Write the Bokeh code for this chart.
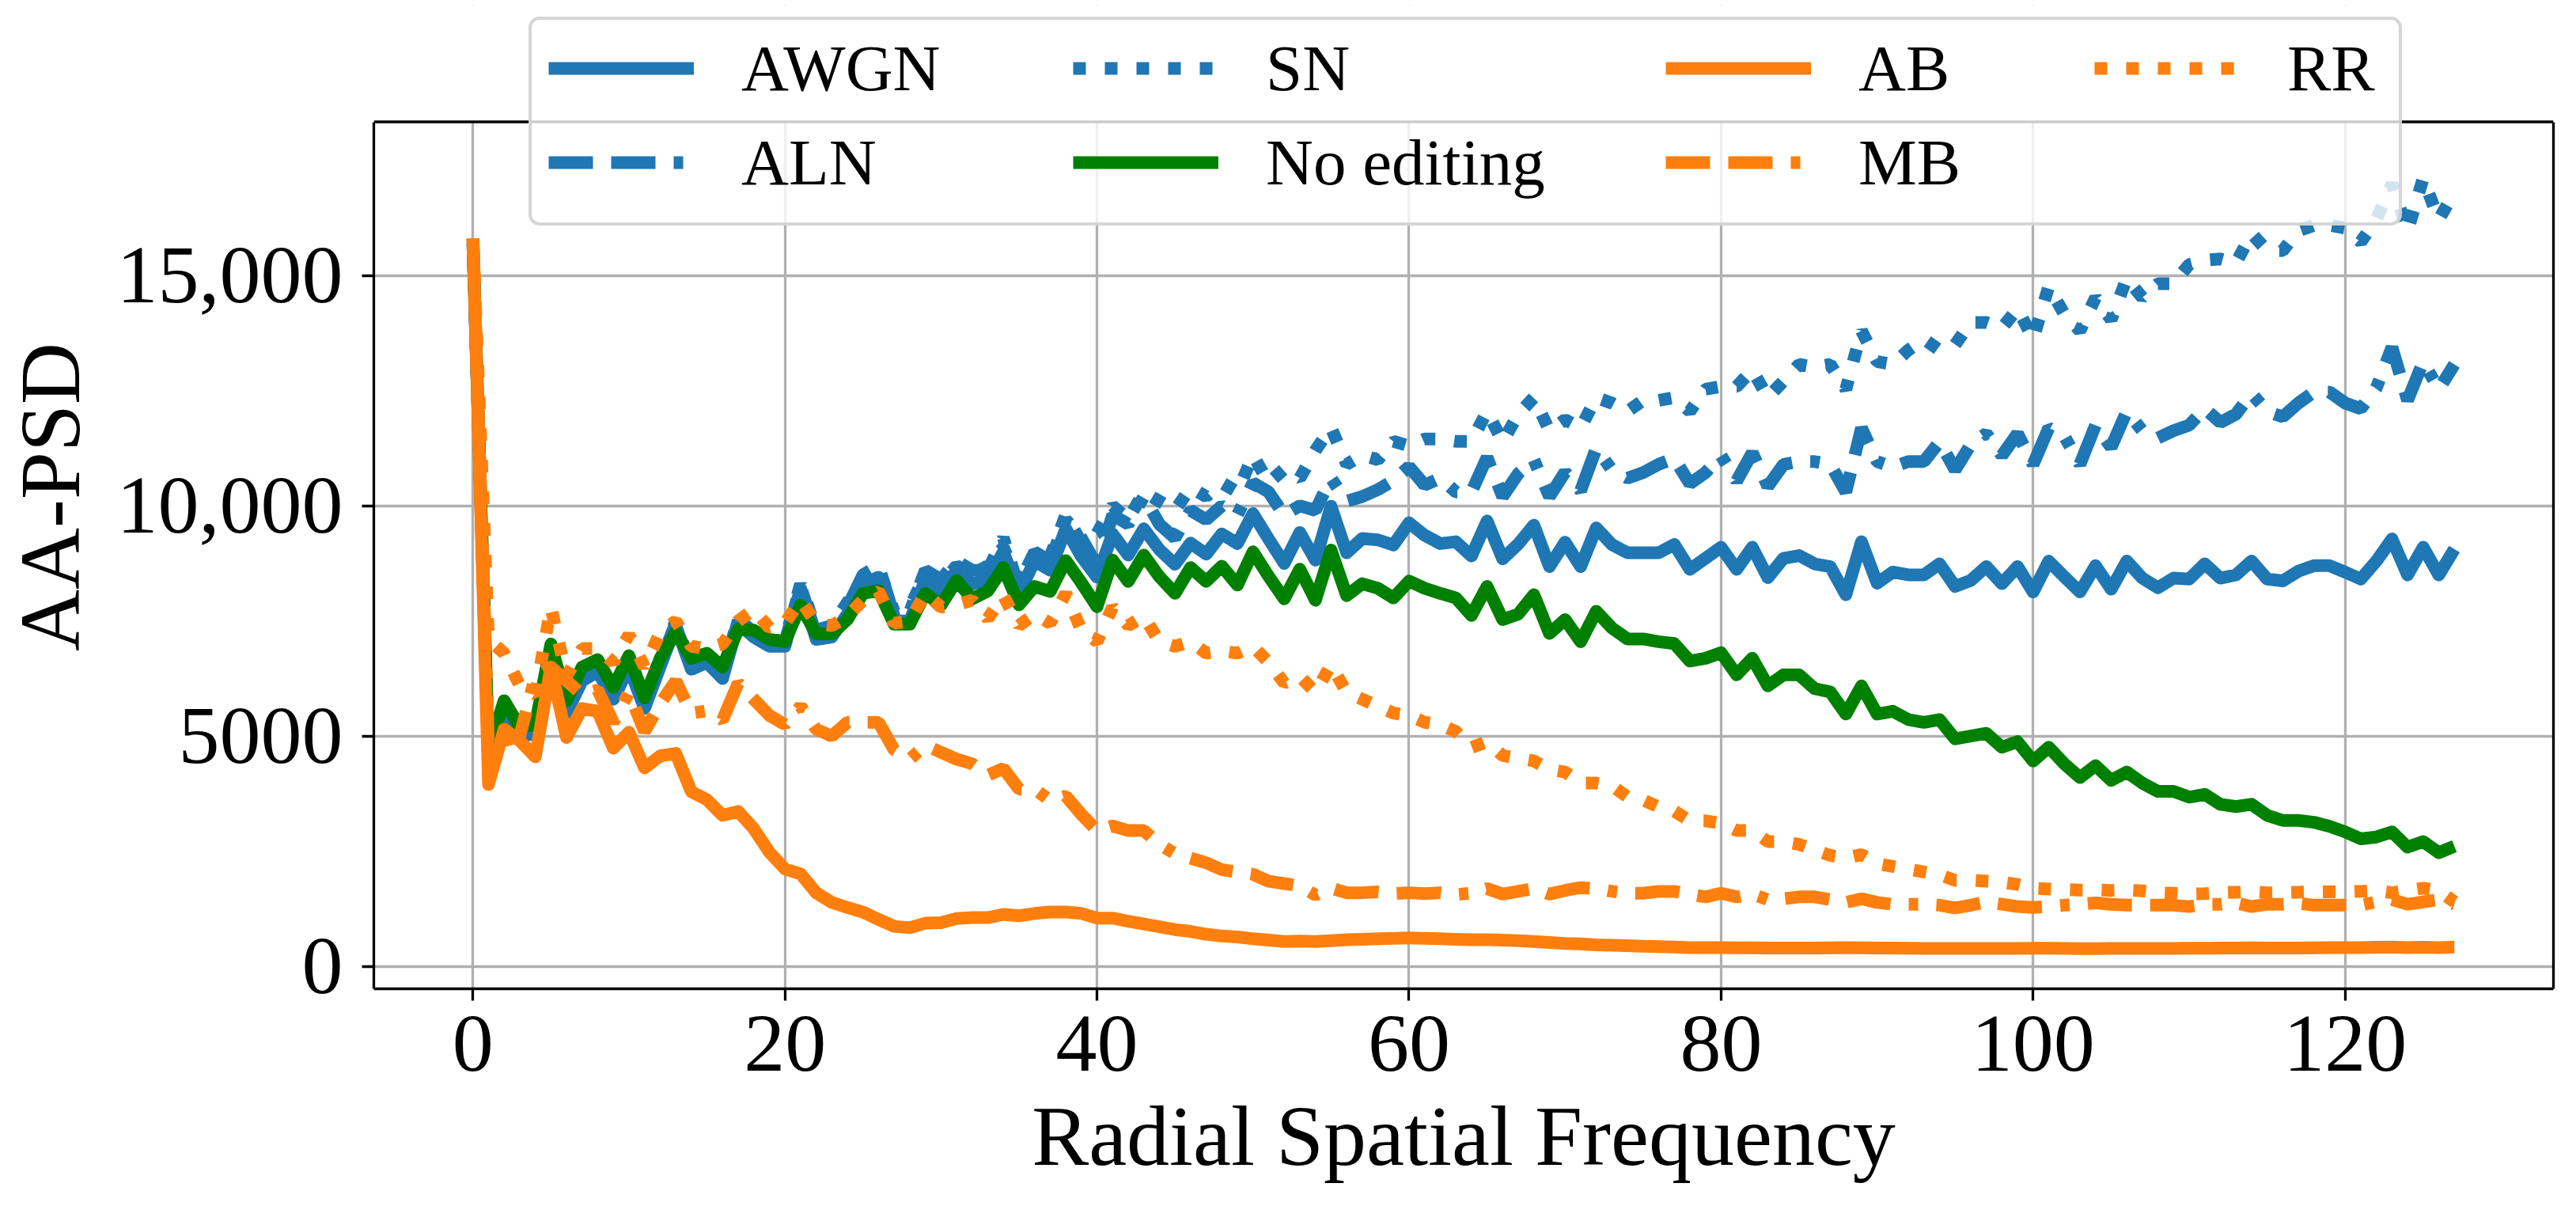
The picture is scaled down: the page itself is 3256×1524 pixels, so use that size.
from bokeh.plotting import figure
from bokeh.models import (ColumnDataSource, Legend, LegendItem, Range1d,
                          LinearAxis, FixedTicker, BoxAnnotation, Span)
from bokeh.core.properties import value
from bokeh.embed import file_html
from bokeh.resources import INLINE

# Radial spatial frequency bins 0..127
freq = list(range(128))

# AA-PSD values per editing method
awgn = [15700, 4500, 5550, 5000, 5050, 6800, 5500, 6200, 6400, 5800,
        6500, 5600, 6500, 7400, 6450, 6600, 6250, 7450, 7150, 6950,
        6950, 8200, 7100, 7150, 7650, 8300, 8450, 7500, 7500, 8400,
        8100, 8600, 8300, 8400, 9000, 8100, 8800, 8600, 9500, 8900,
        8450, 9390, 8930, 9500, 9050, 8730, 9190, 8950, 9390, 9180,
        9830, 9280, 8750, 9420, 8820, 9990, 8980, 9290, 9260, 9150,
        9630, 9360, 9180, 9220, 8910, 9670, 8850, 9170, 9580, 8680,
        9210, 8680, 9520, 9160, 8980, 8980, 8980, 9160, 8620, 8860,
        9100, 8620, 9100, 8440, 8860, 8920, 8740, 8680, 8070, 9220,
        8320, 8560, 8500, 8500, 8740, 8250, 8380, 8680, 8310, 8680,
        8130, 8800, 8460, 8130, 8700, 8190, 8800, 8430, 8220, 8430,
        8410, 8740, 8430, 8500, 8800, 8410, 8370, 8580, 8700, 8700,
        8560, 8410, 8800, 9280, 8500, 9100, 8500, 9060]

aln = [15700, 4550, 5650, 5050, 5100, 6900, 5550, 6300, 6500, 5900,
       6600, 5650, 6600, 7450, 6500, 6700, 6300, 7500, 7200, 7000,
       7050, 8250, 7200, 7300, 7800, 8500, 8700, 7600, 7700, 8600,
       8400, 8800, 8600, 8600, 9300, 8200, 9000, 8800, 9700, 9300,
       8700, 9800, 9600, 10200, 9600, 9300, 9900, 9700, 10000, 9800,
       10500, 10300, 9800, 10000, 9900, 10600, 10100, 10200, 10350, 10550,
       10850, 10450, 10600, 10300, 10300, 11050, 10200, 10700, 11000, 10200,
       10730, 10330, 11250, 10780, 10600, 10720, 10900, 11030, 10480, 10720,
       11090, 10540, 11150, 10420, 10900, 10960, 10960, 10900, 10300, 11690,
       10960, 10840, 10960, 10960, 11390, 10780, 11330, 11570, 11090, 11570,
       10900, 11690, 11510, 10900, 11750, 11270, 12050, 11630, 11470, 11630,
       11750, 12110, 11810, 11990, 12440, 12050, 11930, 12230, 12470, 12470,
       12230, 12110, 12560, 13440, 12290, 13130, 12530, 13070]

sn = [15700, 4600, 5700, 5100, 5150, 6950, 5600, 6350, 6550, 5950,
      6650, 5700, 6650, 7500, 6550, 6750, 6350, 7550, 7250, 7050,
      7100, 8300, 7300, 7400, 7900, 8400, 8650, 7700, 7800, 8500,
      8300, 8700, 8500, 8700, 9100, 8300, 9000, 8900, 9800, 9200,
      9400, 10000, 9700, 10300, 10100, 9900, 10400, 10200, 10500, 10300,
      11100, 10500, 10800, 10600, 11200, 11700, 10900, 11100, 11000, 11400,
      11300, 11450, 11450, 11400, 11400, 12050, 11390, 11990, 12350, 11630,
      11870, 11690, 12350, 12230, 12050, 12290, 12290, 12350, 12050, 12530,
      12590, 12590, 12950, 12350, 12710, 13070, 13010, 13070, 12530, 13800,
      13130, 13070, 13380, 13620, 13380, 13500, 13980, 13980, 13860, 14280,
      13620, 14760, 14160, 13800, 14520, 14040, 14940, 14520, 14820, 14820,
      15240, 15330, 15360, 15270, 15910, 15540, 15540, 15970, 16090, 16090,
      16030, 15730, 16210, 16990, 15970, 17110, 16210, 16810]

no_editing = [15800, 4680, 5770, 5200, 5250, 7000, 5770, 6500, 6660, 6060,
              6745, 5830, 6690, 7260, 6690, 6800, 6500, 7320, 7300, 7100,
              7050, 7840, 7220, 7220, 7530, 8100, 8160, 7430, 7430, 8100,
              7840, 8380, 7980, 8150, 8660, 7850, 8250, 8140, 8810, 8330,
              7810, 8820, 8360, 8930, 8460, 8100, 8660, 8360, 8690, 8280,
              9000, 8470, 7980, 8625, 7950, 9040, 8050, 8310, 8210, 8000,
              8365, 8210, 8100, 8000, 7620, 8250, 7530, 7650, 8070, 7230,
              7530, 7050, 7710, 7350, 7110, 7110, 7050, 7010, 6630, 6690,
              6810, 6330, 6690, 6090, 6330, 6330, 6030, 5960, 5480, 6090,
              5480, 5540, 5360, 5300, 5360, 4940, 5000, 5060, 4760, 4880,
              4460, 4760, 4400, 4100, 4360, 4040, 4220, 3980, 3800, 3800,
              3675, 3735, 3520, 3470, 3520, 3280, 3170, 3170, 3130, 3040,
              2920, 2770, 2810, 2920, 2590, 2710, 2470, 2610]

ab = [15800, 3950, 5150, 4900, 4550, 6500, 4970, 5600, 5540, 4740,
      5085, 4310, 4570, 4625, 3795, 3620, 3280, 3365, 2990, 2480,
      2115, 2010, 1600, 1390, 1280, 1180, 1020, 870, 840, 940,
      950, 1040, 1060, 1060, 1130, 1100, 1150, 1180, 1180, 1150,
      1050, 1050, 980, 920, 860, 800, 760, 700, 660, 640,
      600, 570, 540, 550, 540, 560, 580, 590, 600, 610,
      620, 610, 600, 590, 580, 580, 570, 560, 540, 520,
      500, 490, 470, 460, 450, 440, 430, 420, 410, 410,
      410, 405, 405, 400, 400, 400, 400, 405, 410, 405,
      400, 400, 395, 390, 390, 390, 390, 390, 390, 390,
      395, 395, 390, 385, 385, 390, 390, 390, 390, 390,
      395, 395, 400, 400, 405, 400, 400, 400, 405, 410,
      410, 410, 415, 420, 410, 415, 410, 420]

mb = [15800, 4800, 4900, 5000, 6300, 6500, 6200, 5900, 6000, 5300,
      5950, 5100, 5700, 6200, 5500, 5550, 5350, 6150, 5800, 5450,
      5250, 5650, 5150, 5000, 5300, 5300, 5300, 4700, 4500, 4800,
      4650, 4500, 4400, 4150, 4300, 3850, 3850, 3600, 3700, 3300,
      2950, 3050, 2950, 2950, 2650, 2450, 2350, 2250, 2100, 2050,
      2000, 1850, 1800, 1750, 1550, 1700, 1600, 1600, 1620, 1580,
      1600, 1580, 1600, 1560, 1590, 1690, 1570, 1630, 1690, 1570,
      1650, 1710, 1690, 1630, 1590, 1590, 1630, 1630, 1570, 1510,
      1590, 1510, 1570, 1450, 1470, 1510, 1510, 1450, 1390, 1470,
      1390, 1350, 1350, 1350, 1330, 1270, 1330, 1400, 1350, 1300,
      1280, 1300, 1330, 1350, 1380, 1350, 1330, 1330, 1330, 1330,
      1300, 1350, 1350, 1380, 1300, 1350, 1350, 1370, 1330, 1330,
      1330, 1330, 1400, 1450, 1350, 1400, 1450, 1350]

rr = [15800, 7100, 6800, 6100, 5900, 7800, 6300, 6900, 6900, 6600,
      7200, 6500, 7250, 7500, 6950, 6900, 7000, 7500, 7750, 7350,
      7450, 7950, 7450, 7400, 7600, 7950, 8150, 7450, 7500, 8100,
      7800, 7850, 7950, 7550, 8050, 7400, 7650, 7450, 8100, 7300,
      7050, 7800, 7400, 7600, 7050, 6950, 7050, 6800, 6850, 6800,
      6950, 6600, 6150, 6300, 5950, 6550, 5950, 5800, 5650, 5500,
      5450, 5300, 5250, 5100, 4750, 4880, 4580, 4520, 4460, 4280,
      4220, 3980, 3980, 3920, 3680, 3615, 3460, 3375, 3160, 3160,
      3110, 2950, 2950, 2710, 2710, 2650, 2530, 2410, 2350, 2430,
      2230, 2170, 2110, 2050, 1990, 1870, 1870, 1850, 1830, 1780,
      1700, 1680, 1670, 1660, 1660, 1650, 1660, 1640, 1600, 1590,
      1570, 1580, 1600, 1610, 1620, 1600, 1600, 1610, 1620, 1620,
      1620, 1630, 1650, 1600, 1650, 1700, 1650, 1400]

y_ticks = [0, 5000, 10000, 15000]
y_tick_labels = ["0", "5000", "10,000", "15,000"]
x_ticks = [0, 20, 40, 60, 80, 100, 120]

source = ColumnDataSource(data=dict(x=freq, awgn=awgn, aln=aln, sn=sn,
                                    no_editing=no_editing, ab=ab, mb=mb, rr=rr))

FONT = "Liberation Serif"
BLUE = "#1f77b4"
ORANGE = "#ff7f0e"
GREEN = "#008000"
LW = 16
DOTTED = "16 24"
DASHDOT = "56 23 56 23 12 23"

Y_LO, Y_HI = -485, 18335      # visible axes box
Y_TOP = 20869                 # frame extends up under the legend

# The frame runs to the top of the canvas so the legend (which sits half
# above the axes box) is not clipped; the part above Y_HI is blanked out.
p = figure(frame_width=2755, frame_height=1243,
           x_range=Range1d(-6.35, 133.35), y_range=Range1d(Y_LO, Y_TOP),
           min_border_left=466, min_border_top=6, min_border_right=12,
           min_border_bottom=0,
           output_backend="svg", toolbar_location=None,
           x_axis_label="Radial Spatial Frequency", y_axis_label="AA-PSD")
p.outline_line_color = None

# series, drawn in the same order as the original plot
r_awgn = p.line('x', 'awgn', source=source, color=BLUE, line_width=LW, line_join="round")
r_aln = p.line('x', 'aln', source=source, color=BLUE, line_width=LW, line_dash=DASHDOT)
r_sn = p.line('x', 'sn', source=source, color=BLUE, line_width=LW, line_dash=DOTTED)
r_none = p.line('x', 'no_editing', source=source, color=GREEN, line_width=LW, line_join="round")
r_ab = p.line('x', 'ab', source=source, color=ORANGE, line_width=LW, line_join="round")
r_mb = p.line('x', 'mb', source=source, color=ORANGE, line_width=LW, line_dash=DASHDOT)
r_rr = p.line('x', 'rr', source=source, color=ORANGE, line_width=LW, line_dash=DOTTED)

# axes / grid
p.xaxis.ticker = x_ticks
p.yaxis.ticker = y_ticks
p.yaxis.bounds = (Y_LO, Y_HI)
p.yaxis.major_label_overrides = dict(zip(y_ticks, y_tick_labels))
for ax in (p.xaxis[0], p.yaxis[0]):
    ax.axis_line_color = "black"
    ax.axis_line_width = 3.3
    ax.major_tick_out = 15
    ax.major_tick_in = 0
    ax.minor_tick_out = 0
    ax.minor_tick_in = 0
    ax.major_tick_line_width = 3.3
    ax.major_tick_line_color = "black"
    ax.major_label_text_font = FONT
    ax.major_label_text_font_size = "104px"
    ax.major_label_text_color = "black"
    ax.axis_label_text_font = FONT
    ax.axis_label_text_font_size = "108px"
    ax.axis_label_text_font_style = "normal"
    ax.axis_label_text_color = "black"
p.xaxis.major_label_standoff = 20
p.yaxis.major_label_standoff = 24
p.xaxis.axis_label_standoff = 20
p.yaxis.axis_label_standoff = 22

# right spine
right = LinearAxis(ticker=FixedTicker(ticks=[]), bounds=(Y_LO, Y_HI),
                   axis_line_color="black", axis_line_width=3.3,
                   major_tick_line_color=None, minor_tick_line_color=None,
                   major_label_text_font_size="0px")
p.add_layout(right, "right")

p.grid.grid_line_color = "#b0b0b0"
p.grid.grid_line_width = 3.3

# blank the frame above the axes box, then draw the top spine
p.add_layout(BoxAnnotation(bottom=Y_HI, fill_color="white", fill_alpha=1.0,
                           line_color=None))
p.add_layout(Span(location=Y_HI, dimension="width", line_color="black",
                  line_width=3.3))

# legend frame: an empty item sized to the box, columns laid on top of it
dummy = p.line([0, 1], [0, 0], line_alpha=0)
box = Legend(items=[LegendItem(label=value(" "), renderers=[dummy])],
             location=(196, 964), padding=0, margin=0,
             glyph_width=20, glyph_height=256, label_standoff=0,
             label_width=2340, label_height=256,
             border_line_color="#cccccc", border_line_width=4, border_line_alpha=0.8,
             border_radius=14,
             background_fill_color="white", background_fill_alpha=0.8)
p.add_layout(box)

columns = [
    (221, [("AWGN", r_awgn), ("ALN", r_aln)]),
    (884, [("SN", r_sn), ("No editing", r_none)]),
    (1633, [("AB", r_ab), ("MB", r_mb)]),
    (2175, [("RR", r_rr)]),
]
for vx, entries in columns:
    vy = 994 if len(entries) == 2 else 1113
    leg = Legend(items=[LegendItem(label=value(t), renderers=[r]) for t, r in entries],
                 location=(vx, vy), orientation="vertical",
                 padding=0, margin=0, spacing=19,
                 glyph_width=184, glyph_height=100, label_height=100,
                 label_standoff=60,
                 label_text_font=FONT, label_text_font_size="83px",
                 label_text_color="black",
                 border_line_color=None, background_fill_color=None)
    p.add_layout(leg)

open("out.html", "w").write(file_html(p, INLINE))
